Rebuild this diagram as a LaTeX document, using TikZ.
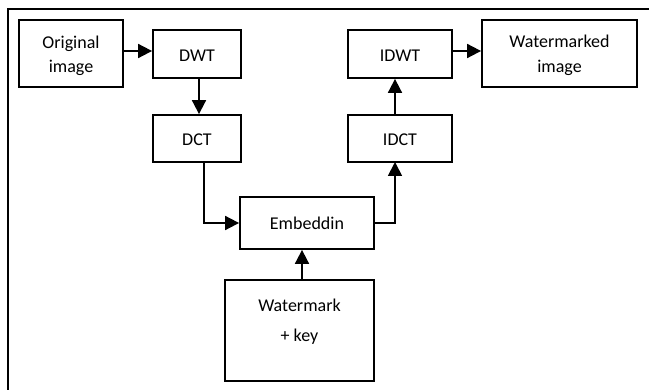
\documentclass[tikz,border=0pt]{standalone}
\usepackage{fontspec}
\setmainfont{Carlito}
\usetikzlibrary{arrows.meta}
\begin{document}
\begin{tikzpicture}[x=1pt,y=-1pt,
  box/.style={draw,line width=1.8pt,inner sep=0pt,minimum width=#1},
  lbl/.style={anchor=base,inner sep=0pt,font=\fontsize{18}{24}\selectfont},
  arr/.style={line width=1.8pt,-{Triangle[length=14pt,width=14pt]}},
  ln/.style={line width=1.8pt}]
\useasboundingbox (0,0) rectangle (649,390);
\draw[line width=1.8pt] (8,391) -- (8,9) -- (650,9);
% boxes
\node[box=104pt,minimum height=67pt] (orig) at (71,53.5) {};
\node[box=88pt,minimum height=48pt] (dwt) at (197,54) {};
\node[box=88pt,minimum height=47pt] (dct) at (197,138.5) {};
\node[box=134pt,minimum height=52pt] (emb) at (307,223) {};
\node[box=149pt,minimum height=101pt] (wm) at (299.5,330.5) {};
\node[box=104pt,minimum height=47pt] (idct) at (400,138.5) {};
\node[box=104pt,minimum height=48pt] (idwt) at (400,54) {};
\node[box=155pt,minimum height=67pt] (wmk) at (559.5,53.5) {};
% texts
\node[lbl] (t1) at (71,49) {Original};
\node[lbl] (t2) at (71,73) {image};
\node[lbl] (t3) at (197,62) {DWT};
\node[lbl] (t4) at (197,146) {DCT};
\node[lbl] (t5) at (307,230) {Embeddin};
\node[lbl] (t6) at (299.5,312) {Watermark};
\node[lbl] (t7) at (299.5,342) {+ key};
\node[lbl] (t8) at (400,146) {IDCT};
\node[lbl] (t9) at (400,62) {IDWT};
\node[lbl] (t10) at (559.5,48) {Watermarked};
\node[lbl] (t11) at (559.5,73) {image};
% connectors
\coordinate (a1) at (123,51);
\draw[arr] (a1) -- (a1 -| dwt.west);
\coordinate (a2) at (199,78);
\draw[arr] (a2) -- (a2 |- dct.north);
\coordinate (a3) at (204,162);
\draw[arr] (a3) |- (emb.west);
\coordinate (a4) at (302,280);
\draw[arr] (a4) -- (a4 |- emb.south);
\coordinate (a5) at (395,162);
\draw[arr] (emb.east) -| (a5);
\coordinate (a6) at (395,115);
\draw[arr] (a6) -- (a6 |- idwt.south);
\coordinate (a7) at (452,51);
\draw[arr] (a7) -- (a7 -| wmk.west);
\end{tikzpicture}
\end{document}
